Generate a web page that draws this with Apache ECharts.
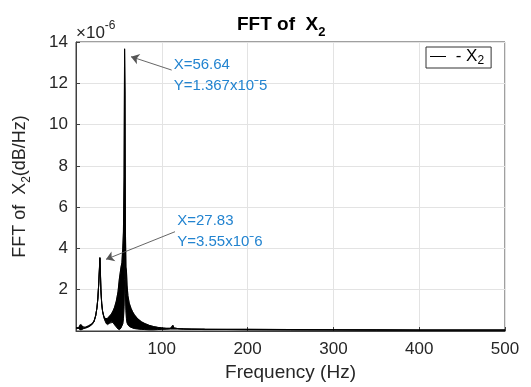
<!DOCTYPE html>
<html>
<head>
<meta charset="utf-8">
<script src="https://cdn.jsdelivr.net/npm/echarts@6/dist/echarts.min.js"></script>
<style>
html,body{margin:0;padding:0;background:#fff;}
#c{width:531px;height:387px;}
</style>
</head>
<body>
<div id="c"></div>
<script>
// Frequency (Hz)
var freq = [0,1,3,4,5,6,7,8,9,11,13,15,17,19,21,23,24.5,25.5,26.5,27.3,27.83,28.4,29,30,31,32.5,34,35.5,37,39,41,43,45,47,49,50.5,51.5,52.5,53.5,54.5,55.3,56,56.64,57.2,57.6,58.2,58.8,59.5,60.5,62,64,66,68,72,76,80,85,90,95,100,105,110,112,113,114,118,125,135,150,175,200,250,300,350,400,450,500];
// Upper envelope of the spectrum (x 1e-6)
var upper = [0.15,0.16,0.15,0.22,0.3,0.32,0.26,0.2,0.16,0.18,0.22,0.26,0.3,0.36,0.48,0.75,1.15,1.6,2.3,3.0,3.55,2.9,2.0,1.3,0.95,0.7,0.6,0.58,0.62,0.7,0.8,0.95,1.15,1.45,1.9,2.5,2.8,3.1,3.3,4.0,4.8,7.5,13.67,11.6,4.8,3.1,2.9,2.2,1.7,1.35,1.1,0.92,0.78,0.58,0.45,0.36,0.28,0.22,0.18,0.15,0.13,0.13,0.2,0.27,0.15,0.12,0.11,0.1,0.09,0.08,0.08,0.07,0.06,0.06,0.05,0.05,0.05];
// Lower envelope of the spectrum (x 1e-6)
var lower = [0.15,0.14,0.12,0.08,0.05,0.06,0.08,0.1,0.12,0.14,0.17,0.2,0.26,0.32,0.45,0.75,1.15,1.6,2.3,3.0,3.55,2.9,2.0,1.3,0.95,0.65,0.48,0.35,0.3,0.38,0.45,0.42,0.3,0.2,0.1,0.06,0.1,0.15,0.25,0.35,0.6,1.2,2.5,4.6,1.8,1.0,0.6,0.4,0.3,0.22,0.18,0.15,0.12,0.1,0.08,0.07,0.06,0.06,0.07,0.08,0.09,0.1,0.1,0.1,0.1,0.1,0.09,0.08,0.07,0.07,0.06,0.05,0.05,0.04,0.04,0.04,0.04];
var xTicks = [0,100,200,300,400,500];
var yTicks = [0,2,4,6,8,10,12,14];
// Peak annotations
var peaks = [
  {x:56.64, yText:'Y=1.367x10ˉ5', textAt:[113.2,12.36], arrowFrom:[111.5,12.64], arrowTo:[64.1,13.29]},
  {x:27.83, yText:'Y=3.55x10ˉ6', textAt:[117.4,4.81], arrowFrom:[115.4,4.81], arrowTo:[35.0,3.47]}
];

var upperPts = freq.map(function(f,i){return [f, upper[i]];});
var lowerPts = freq.map(function(f,i){return [f, lower[i]];});

var blue = '#2384d0';
var txt = '#262626';
var chart = echarts.init(document.getElementById('c'), null, {renderer:'canvas'});
chart.setOption({
  animation:false,
  backgroundColor:'#fff',
  title:{
    text:'{a|FFT of  X}{s|2}',
    left:232, top:6,
    textStyle:{rich:{
      a:{fontFamily:'Liberation Sans',fontWeight:'bold',fontSize:19,color:'#000',lineHeight:28,verticalAlign:'middle'},
      s:{fontFamily:'Liberation Sans',fontWeight:'bold',fontSize:13,color:'#000',lineHeight:13,verticalAlign:'bottom'}
    }}
  },
  graphic:[{
    type:'text', left:76, top:20,
    style:{text:'{a|×10}{s|-6}', rich:{
      a:{fontFamily:'Liberation Sans',fontSize:17,fill:txt,lineHeight:22,verticalAlign:'bottom'},
      s:{fontFamily:'Liberation Sans',fontSize:12,fill:txt,lineHeight:12,verticalAlign:'top'}
    }}
  }],
  legend:{
    data:[{name:'X2', icon:'rect'}], left:426, top:47,
    backgroundColor:'#fff',
    borderColor:'#333', borderWidth:1, padding:[1,7,1,4],
    itemWidth:16, itemHeight:1, itemGap:4,
    itemStyle:{color:'#000'},
    formatter:function(){return '{a| - X}{s|2}';},
    textStyle:{rich:{
      a:{fontFamily:'Liberation Sans',fontSize:17,color:'#000',lineHeight:21,verticalAlign:'middle'},
      s:{fontFamily:'Liberation Sans',fontSize:12,color:'#000',lineHeight:12,verticalAlign:'bottom'}
    }}
  },
  grid:{left:76, right:26, top:42, bottom:56, show:true, borderColor:'#404040', borderWidth:1, backgroundColor:'#fff'},
  xAxis:{
    type:'value', min:xTicks[0], max:xTicks[xTicks.length-1], interval:100,
    name:'Frequency (Hz)', nameLocation:'middle', nameGap:31,
    nameTextStyle:{fontFamily:'Liberation Sans',fontSize:19,color:txt},
    axisLine:{show:true,lineStyle:{color:'#404040',width:1}},
    axisTick:{show:true,inside:true,length:4,lineStyle:{color:'#404040'}},
    axisLabel:{fontFamily:'Liberation Sans',fontSize:17,color:txt,margin:10,
      formatter:function(v){return v===0?'':String(v);}},
    splitLine:{show:true,lineStyle:{color:'#e3e3e3',width:1}}
  },
  yAxis:{
    type:'value', min:yTicks[0], max:yTicks[yTicks.length-1], interval:2,
    name:'{a|FFT of  X}{s|2}{a|(dB/Hz)}', nameLocation:'middle', nameGap:43, nameRotate:90,
    nameTextStyle:{rich:{
      a:{fontFamily:'Liberation Sans',fontSize:18,color:txt,lineHeight:26,verticalAlign:'middle'},
      s:{fontFamily:'Liberation Sans',fontSize:12,color:txt,lineHeight:12,verticalAlign:'bottom'}
    }},
    axisLine:{show:true,lineStyle:{color:'#404040',width:1}},
    axisTick:{show:true,inside:true,length:4,lineStyle:{color:'#404040'}},
    axisLabel:{fontFamily:'Liberation Sans',fontSize:17,color:txt,margin:8,
      formatter:function(v){return v===0?'':String(v);}},
    splitLine:{show:true,lineStyle:{color:'#e3e3e3',width:1}}
  },
  series:[
    {name:'band', type:'custom', data:[[0,0]], silent:true, z:2,
     renderItem:function(params, api){
       var pts = [];
       for (var i=0;i<freq.length;i++) pts.push(api.coord([freq[i], upper[i]]));
       for (var j=freq.length-1;j>=0;j--) pts.push(api.coord([freq[j], lower[j]]));
       return {type:'polygon', shape:{points:pts},
               style:{fill:'#000', stroke:'#000', lineWidth:0.6}};
     }},
    {name:'X2', type:'line', data:upperPts, showSymbol:false, symbol:'none', z:3,
     lineStyle:{color:'#000',width:1.1}, itemStyle:{color:'#000'}, silent:true},
    {name:'low', type:'line', data:lowerPts, showSymbol:false, symbol:'none', z:3,
     lineStyle:{color:'#000',width:1}, itemStyle:{color:'#000'}, silent:true},
    {name:'notes', type:'line', data:[[0,0]], symbol:'none', lineStyle:{width:0}, silent:true, z:4,
     markLine:{
       silent:true, symbol:['none','arrow'], symbolSize:8,
       lineStyle:{color:'#555',width:0.9,type:'solid'}, label:{show:false},
       data:peaks.map(function(p){return [{coord:p.arrowFrom},{coord:p.arrowTo}];})
     },
     markPoint:{
       silent:true, symbol:'circle', symbolSize:1, itemStyle:{color:'rgba(0,0,0,0)'},
       label:{show:true, position:'right', distance:0, color:blue,
         fontFamily:'Liberation Sans', fontSize:15, lineHeight:21, align:'left'},
       data:peaks.map(function(p){return {coord:p.textAt, value:0,
         label:{formatter:'X='+p.x.toFixed(2)+'\n'+p.yText}};})
     }}
  ]
});
</script>
</body>
</html>
